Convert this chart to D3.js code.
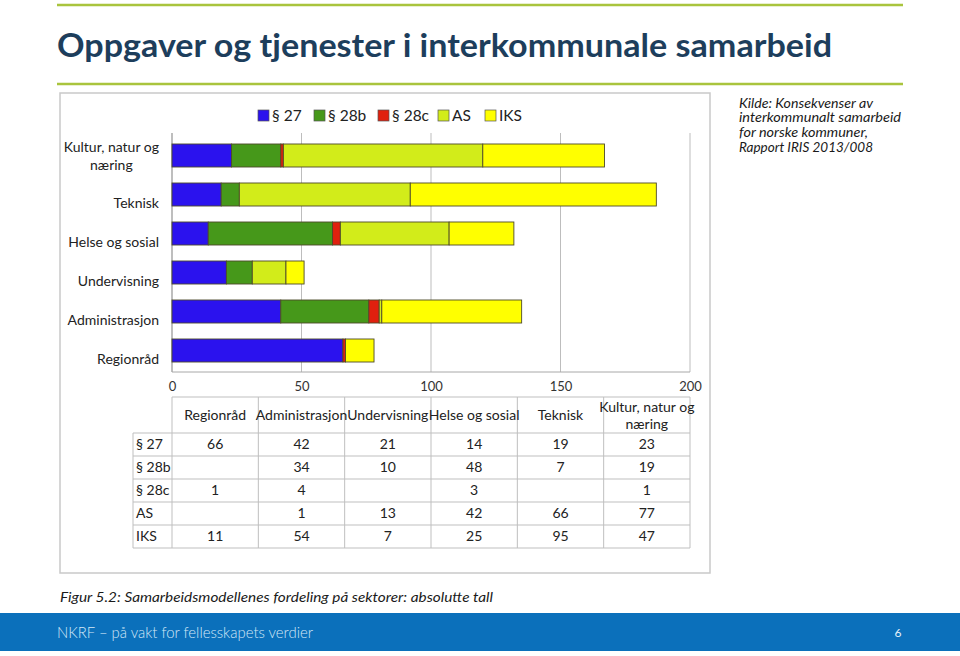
<!DOCTYPE html>
<html><head><meta charset="utf-8">
<script src="https://cdn.jsdelivr.net/npm/d3@7"></script>
<style>
html,body{margin:0;padding:0;background:#fff;}
svg{display:block;font-family:Lato,"Open Sans",sans-serif;}
</style></head>
<body>
<svg id="c" width="960" height="656"></svg>
<script>
const categories = ["Kultur, natur og næring","Teknisk","Helse og sosial","Undervisning","Administrasjon","Regionråd"];
const seriesNames = ["§ 27","§ 28b","§ 28c","AS","IKS"];
const seriesColors = ["#2b12ee","#46981a","#e0200e","#d2ec1a","#ffff00"];
// values per series, aligned with categories
const s27  = [23,19,14,21,42,66];
const s28b = [19,7,48,10,34,0];
const s28c = [1,0,3,0,4,1];
const sAS  = [77,66,42,13,1,0];
const sIKS = [47,95,25,7,54,11];
const xTicks = [0,50,100,150,200];
const tableCategories = ["Regionråd","Administrasjon","Undervisning","Helse og sosial","Teknisk","Kultur, natur og næring"];

const series = [s27,s28b,s28c,sAS,sIKS];
const svg = d3.select("#c");

// decorative lines & title
svg.append("line").attr("x1",57).attr("x2",903).attr("y1",5).attr("y2",5).attr("stroke","#a9c43d").attr("stroke-width",2.5);
svg.append("line").attr("x1",57).attr("x2",903).attr("y1",84).attr("y2",84).attr("stroke","#a9c43d").attr("stroke-width",2.5);
svg.append("text").attr("x",57).attr("y",57).attr("font-size",32).attr("font-weight","bold")
  .attr("fill","#1d3e5c").attr("textLength",775).attr("lengthAdjust","spacingAndGlyphs")
  .text("Oppgaver og tjenester i interkommunale samarbeid");

// source
const kilde = ["Kilde: Konsekvenser av","interkommunalt samarbeid","for norske kommuner,","Rapport IRIS 2013/008"];
const kildeW = [134,162,129,134];
svg.append("g").selectAll("text").data(kilde).join("text")
  .attr("x",739).attr("y",(d,i)=>103+i*14.7).attr("dy","0.35em").attr("font-size",13).attr("font-style","italic")
  .attr("textLength",(d,i)=>kildeW[i]).attr("lengthAdjust","spacingAndGlyphs").attr("fill","#1a1a1a").text(d=>d);

// chart box
svg.append("rect").attr("x",60).attr("y",93).attr("width",650).attr("height",480).attr("fill","#fff").attr("stroke","#c9c9c9").attr("stroke-width",1.5);

const x = d3.scaleLinear().domain([0,200]).range([172,690]);
const y = d3.scaleBand().domain(categories).range([136,370]).paddingInner(0.41).paddingOuter(0.205);

// grid
svg.append("g").selectAll("line").data(xTicks.slice(1)).join("line")
  .attr("x1",d=>x(d)).attr("x2",d=>x(d)).attr("y1",133).attr("y2",372).attr("stroke","#bdbdbd").attr("stroke-width",1);
svg.append("line").attr("x1",172).attr("x2",172).attr("y1",133).attr("y2",372).attr("stroke","#a8a8a8").attr("stroke-width",1.5);
svg.append("line").attr("x1",172).attr("x2",690).attr("y1",372).attr("y2",372).attr("stroke","#a8a8a8").attr("stroke-width",1);

// x axis
const xAxis = d3.axisBottom(x).tickValues(xTicks).tickSize(0).tickPadding(0);
const gx = svg.append("g").attr("transform","translate(0,382)").call(xAxis);
gx.select(".domain").remove();
gx.selectAll("text").attr("font-size",13).attr("fill","#333").attr("font-family","Lato,sans-serif").attr("dy","0.71em");

// stacked bars
const stackData = categories.map((c,i)=>{const o={cat:c}; seriesNames.forEach((s,j)=>o[s]=series[j][i]); return o;});
const stacked = d3.stack().keys(seriesNames)(stackData);
svg.append("g").selectAll("g").data(stacked).join("g").attr("fill",(d,i)=>seriesColors[i])
  .selectAll("rect").data(d=>d.filter(p=>p[1]-p[0]>0)).join("rect")
  .attr("x",d=>x(d[0])).attr("width",d=>x(d[1])-x(d[0]))
  .attr("y",d=>y(d.data.cat)).attr("height",y.bandwidth())
  .attr("stroke","#4d4a2a").attr("stroke-width",0.9);

// category labels
const labelLines = {"Kultur, natur og næring":["Kultur, natur og","næring"]};
categories.forEach(c=>{
  const lines = labelLines[c] || [c];
  const cy = y(c)+y.bandwidth()/2;
  if(lines.length===1){
    svg.append("text").attr("x",159).attr("y",cy+9).attr("dy","0.35em").attr("text-anchor","end")
      .attr("font-size",14).attr("fill","#222").text(c);
  } else {
    const g = svg.append("g");
    const t0 = g.append("text").attr("font-size",14).attr("fill","#222").text(lines[0]);
    const w = t0.node().getComputedTextLength();
    const cx = 159 - w/2;
    g.selectAll("text").remove();
    lines.forEach((l,k)=>g.append("text").attr("x",cx).attr("y",cy-8+k*18).attr("dy","0.35em").attr("text-anchor","middle")
      .attr("font-size",14).attr("fill","#222").text(l));
  }
});

// legend
const legX = [258,314,378,438,485];
const lg = svg.append("g");
seriesNames.forEach((s,i)=>{
  lg.append("rect").attr("x",legX[i]).attr("y",110).attr("width",11).attr("height",11).attr("fill",seriesColors[i]).attr("stroke","#555").attr("stroke-width",0.7);
  lg.append("text").attr("x",legX[i]+14).attr("y",115.5).attr("dy","0.35em").attr("font-size",15.5).attr("fill","#222").text(s);
});

// table
const colX = d3.scaleBand().domain(tableCategories).range([172,690]);
const rowY = d3.scaleBand().domain(seriesNames).range([433,548]);
const tg = svg.append("g");
const bc = "#bfbfbf";
tg.append("line").attr("x1",172).attr("x2",690).attr("y1",397).attr("y2",397).attr("stroke",bc);
[433].concat(seriesNames.map(s=>rowY(s)+rowY.bandwidth())).forEach(yy=>
  tg.append("line").attr("x1",133).attr("x2",690).attr("y1",yy).attr("y2",yy).attr("stroke",bc));
tg.append("line").attr("x1",133).attr("x2",133).attr("y1",433).attr("y2",548).attr("stroke",bc);
tableCategories.forEach(c=>tg.append("line").attr("x1",colX(c)).attr("x2",colX(c)).attr("y1",397).attr("y2",548).attr("stroke",bc));
tg.append("line").attr("x1",690).attr("x2",690).attr("y1",397).attr("y2",548).attr("stroke",bc);
tableCategories.forEach(c=>{
  const lines = labelLines[c] || [c];
  const cx = colX(c)+colX.bandwidth()/2;
  lines.forEach((l,k)=>tg.append("text").attr("x",cx).attr("y",lines.length===1?415:407+k*17).attr("dy","0.35em")
    .attr("text-anchor","middle").attr("font-size",14).attr("fill","#222").text(l));
});
seriesNames.forEach((s,j)=>{
  const cy = rowY(s)+rowY.bandwidth()/2;
  tg.append("text").attr("x",136).attr("y",cy).attr("dy","0.35em").attr("font-size",14).attr("fill","#222").text(s);
  tableCategories.forEach(c=>{
    const v = series[j][categories.indexOf(c)];
    if(v>0) tg.append("text").attr("x",colX(c)+colX.bandwidth()/2).attr("y",cy).attr("dy","0.35em")
      .attr("text-anchor","middle").attr("font-size",14).attr("fill","#222").text(v);
  });
});

// caption
svg.append("text").attr("x",60).attr("y",597).attr("dy","0.35em").attr("font-size",13.5).attr("font-style","italic")
  .attr("fill","#1a1a1a").attr("textLength",433).attr("lengthAdjust","spacingAndGlyphs")
  .text("Figur 5.2:  Samarbeidsmodellenes fordeling på sektorer: absolutte tall");

// footer
svg.append("rect").attr("x",0).attr("y",613).attr("width",960).attr("height",38).attr("fill","#0b70bb");
svg.append("text").attr("x",57).attr("y",632).attr("dy","0.35em").attr("font-size",16).attr("font-weight",300)
  .attr("fill","#d4e8f7").attr("textLength",256).attr("lengthAdjust","spacingAndGlyphs").text("NKRF – på vakt for fellesskapets verdier");
svg.append("text").attr("x",898).attr("y",633).attr("dy","0.35em").attr("text-anchor","middle").attr("font-size",12).attr("fill","#e8f2fb").text("6");
</script>
</body></html>
